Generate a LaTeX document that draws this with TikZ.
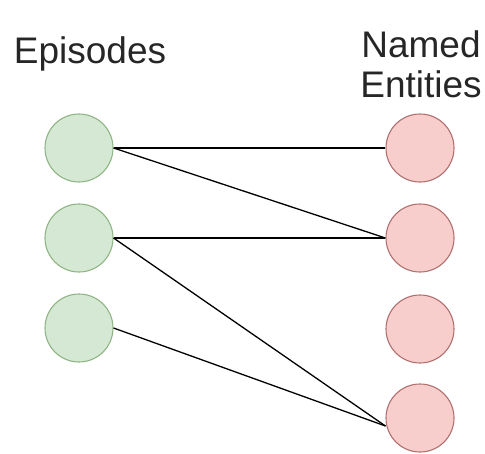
\documentclass[tikz,border=0pt]{standalone}
\usepackage{fontspec}
\setmainfont{Liberation Sans}
\begin{document}
\begin{tikzpicture}[x=1pt,y=-1pt,
  episode/.style={circle,draw=green!45!black!60,fill=green!12!white!90!gray,line width=1.1pt,minimum size=68pt,inner sep=0pt},
  entity/.style={circle,draw=red!55!black!70,fill=red!20!white,line width=1.1pt,minimum size=68pt,inner sep=0pt},
  link/.style={draw=black,line width=1.3pt},
  title/.style={font=\fontsize{37}{40}\selectfont,anchor=base,inner sep=0pt,text=black!85}]
\useasboundingbox (0,0) rectangle (485,453);
\definecolor{epfill}{HTML}{D5E8D4}
\definecolor{epdraw}{HTML}{8FB585}
\definecolor{enfill}{HTML}{F8CECC}
\definecolor{endraw}{HTML}{B07070}
\tikzset{episode/.append style={fill=epfill,draw=epdraw},entity/.append style={fill=enfill,draw=endraw}}

% column headings
\node[title] (hep) at (90,63) {Episodes};
\node[title] (hne1) at (421,57) {Named};
\node[title] (hne2) at (421,97) {Entities};

% episodes
\node[episode] (e1) at (79,148) {};
\node[episode] (e2) at (79,238) {};
\node[episode] (e3) at (79,328) {};

% named entities
\node[entity] (n1) at (420,148) {};
\node[entity] (n2) at (420,238) {};
\node[entity] (n3) at (420,329) {};
\node[entity] (n4) at (420,418) {};

% links
\coordinate (n4in) at ([yshift=-8pt]n4.west);
\draw[link] (e1.east) -- (n1.west);
\draw[link] (e1.east) -- (n2.west);
\draw[link] (e2.east) -- (n2.west);
\draw[link] (e2.east) -- (n4in);
\draw[link] (e3.east) -- (n4in);
\end{tikzpicture}
\end{document}
